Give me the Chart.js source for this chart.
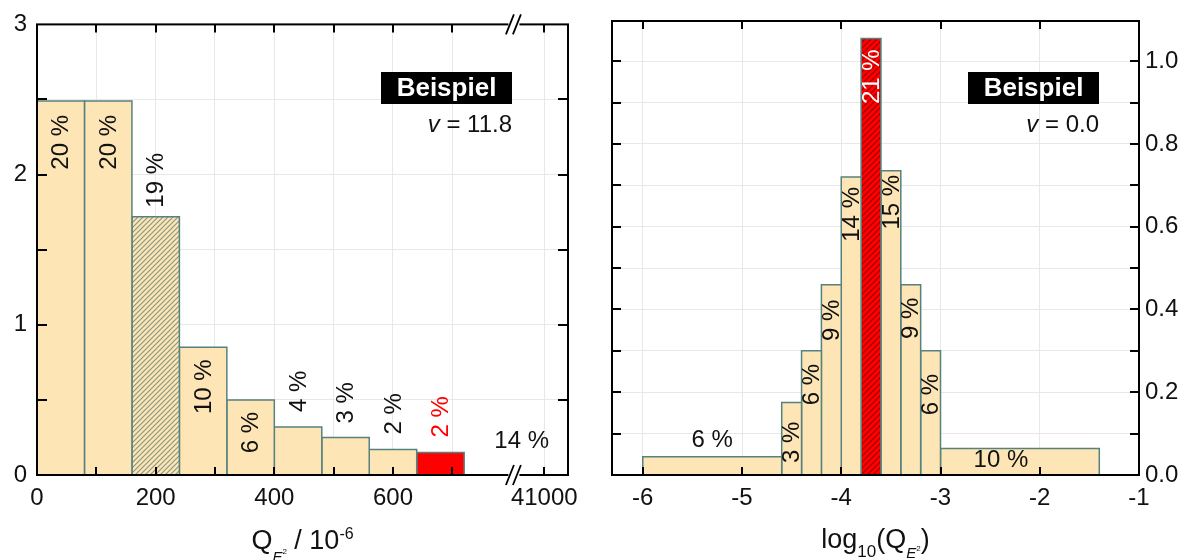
<!DOCTYPE html>
<html>
<head>
<meta charset="utf-8">
<title>Beispiel - Verteilung Q_E2</title>
<script src="https://cdn.jsdelivr.net/npm/chart.js@4.4.1/dist/chart.umd.min.js"></script>
<style>
  html, body { margin: 0; padding: 0; background: #fff; }
  #wrap { position: relative; width: 1198px; height: 560px; overflow: hidden; }
  canvas { position: absolute; top: 0; }
  #left { left: 0; }
  #right { left: 598px; }
</style>
</head>
<body>
<div id="wrap">
  <canvas id="left" width="600" height="560"></canvas>
  <canvas id="right" width="600" height="560"></canvas>
</div>
<script>
// linkes Diagramm: Q_E² / 10^-6, Klassenbreite 80
const leftEdges = [0, 80, 160, 240, 320, 400, 480, 560, 640, 720];
const leftHeights = [2.49, 2.49, 1.72, 0.85, 0.50, 0.32, 0.25, 0.17, 0.15];
const leftPercent = [20, 20, 19, 10, 6, 4, 3, 2, 2];
const leftOverflowPercent = 14;
const leftXTickValues = [0, 200, 400, 600];
const leftBreakTickLabel = '41000';
const leftYTickValues = [0, 1, 2, 3];
const leftV = '11.8';

// rechtes Diagramm: log10(Q_E²)
const rightEdges = [-6, -4.6, -4.4, -4.2, -4.0, -3.8, -3.6, -3.4, -3.2, -3.0, -1.4];
const rightHeights = [0.044, 0.175, 0.30, 0.46, 0.72, 1.055, 0.735, 0.46, 0.30, 0.064];
const rightPercent = [6, 3, 6, 9, 14, 21, 15, 9, 6, 10];
const rightXTickValues = [-6, -5, -4, -3, -2, -1];
const rightYTickValues = [0, 0.2, 0.4, 0.6, 0.8, 1.0];
const rightV = '0.0';

// Darstellung
const FONT = "'Liberation Sans', Arial, sans-serif";
const BEIGE = '#fde5b5';
const EDGE = '#55827f';
const RED = '#ff0000';
const GRID = '#e8e8e8';
const INK = '#111';

const leftStyles = ['plain', 'plain', 'hatch', 'plain', 'plain', 'plain', 'plain', 'plain', 'red'];
const rightStyles = ['plain', 'plain', 'plain', 'plain', 'plain', 'redHatch', 'plain', 'plain', 'plain', 'plain'];

// Achsenbruch links (Position in Achseneinheiten)
const BREAK_AT = 803;
const BREAK_TICK_AT = 855;
const leftXGrid = [0, 100, 200, 300, 400, 500, 600, 700, BREAK_TICK_AT];
const leftYGrid = [0, 0.5, 1, 1.5, 2, 2.5, 3];
const rightYGrid = [0, 0.1, 0.2, 0.3, 0.4, 0.5, 0.6, 0.7, 0.8, 0.9, 1.0];

// Beschriftungen der Balken: Modus + Abstand in px
const leftLabelPlace = [['in', 14], ['in', 14], ['above', 9], ['in', 12], ['in', 12],
  ['above', 15], ['above', 14], ['above', 15], ['above', 15]];
const rightLabelPlace = [['hAbove', 16, 0], ['in', 19], ['in', 13], ['in', 15], ['in', 10],
  ['in', 11], ['in', 4], ['in', 13], ['in', 23], ['hIn', 12, -19]];

function hatchTile(bg, fg, size, lw) {
  const c = document.createElement('canvas');
  c.width = c.height = size;
  const g = c.getContext('2d');
  g.fillStyle = bg;
  g.fillRect(0, 0, size, size);
  g.strokeStyle = fg;
  g.lineWidth = lw;
  g.beginPath();
  g.moveTo(-1, size + 1); g.lineTo(size + 1, -1);
  g.moveTo(-2, 2); g.lineTo(2, -2);
  g.moveTo(size - 2, size + 2); g.lineTo(size + 2, size - 2);
  g.stroke();
  return c;
}

function fillsFor(ctx) {
  return {
    plain: BEIGE,
    red: RED,
    hatch: ctx.createPattern(hatchTile(BEIGE, '#8a9884', 5, 1.2), 'repeat'),
    redHatch: ctx.createPattern(hatchTile(RED, '#a80000', 6, 1.3), 'repeat')
  };
}

function binDatasets(edges, heights, styles, fills) {
  return heights.map((h, i) => ({
    data: [
      { x: edges[i], y: 0 }, { x: edges[i], y: h },
      { x: edges[i + 1], y: h }, { x: edges[i + 1], y: 0 }
    ],
    fill: 'origin',
    backgroundColor: fills[styles[i]],
    borderColor: EDGE,
    borderWidth: 1.5,
    pointRadius: 0,
    tension: 0
  }));
}

function same(a, b) { return Math.abs(a - b) < 1e-9; }

function richText(ctx, parts, cx, baseline) {
  let w = 0;
  parts.forEach(p => {
    ctx.font = (p.i ? 'italic ' : '') + p.s + 'px ' + FONT;
    p.w = ctx.measureText(p.t).width;
    w += p.w;
  });
  let x = cx - w / 2;
  ctx.textAlign = 'left';
  ctx.textBaseline = 'alphabetic';
  parts.forEach(p => {
    ctx.font = (p.i ? 'italic ' : '') + p.s + 'px ' + FONT;
    ctx.fillText(p.t, x, baseline + (p.dy || 0));
    x += p.w;
  });
}

function barLabel(ctx, text, cx, top, place, color) {
  const [mode, off, dx] = place;
  ctx.save();
  ctx.fillStyle = color;
  ctx.font = '24px ' + FONT;
  if (mode === 'in' || mode === 'above') {
    ctx.translate(cx, mode === 'in' ? top + off : top - off);
    ctx.rotate(-Math.PI / 2);
    ctx.textAlign = mode === 'in' ? 'right' : 'left';
    ctx.textBaseline = 'middle';
    ctx.fillText(text, 0, 1);
  } else {
    ctx.textAlign = 'center';
    ctx.textBaseline = 'middle';
    ctx.fillText(text, cx + (dx || 0), mode === 'hIn' ? top + off : top - off);
  }
  ctx.restore();
}

function drawTag(ctx, right, vText) {
  const w = 131, h = 32, top = 72;
  ctx.fillStyle = '#000';
  ctx.fillRect(right - w, top, w, h);
  ctx.fillStyle = '#fff';
  ctx.font = 'bold 26px ' + FONT;
  ctx.textAlign = 'center';
  ctx.textBaseline = 'middle';
  ctx.fillText('Beispiel', right - w / 2, top + h / 2 + 1);
  ctx.fillStyle = INK;
  ctx.textAlign = 'right';
  ctx.textBaseline = 'alphabetic';
  ctx.font = '24px ' + FONT;
  const rest = ' = ' + vText;
  const rw = ctx.measureText(rest).width;
  ctx.fillText(rest, right, 132);
  ctx.font = 'italic 24px ' + FONT;
  ctx.fillText('v', right - rw, 132);
}

function frameAndTicks(chart, xTicks, yTicks, xLen, yLen) {
  const { ctx, chartArea: a, scales } = chart;
  ctx.save();
  ctx.strokeStyle = '#000';
  ctx.lineWidth = 2;
  ctx.strokeRect(a.left, a.top, a.right - a.left, a.bottom - a.top);
  ctx.beginPath();
  xTicks.forEach(v => {
    const px = Math.round(scales.x.getPixelForValue(v));
    ctx.moveTo(px, a.bottom); ctx.lineTo(px, a.bottom - xLen);
    ctx.moveTo(px, a.top); ctx.lineTo(px, a.top + xLen);
  });
  yTicks.forEach(v => {
    const py = Math.round(scales.y.getPixelForValue(v));
    ctx.moveTo(a.left, py); ctx.lineTo(a.left + yLen, py);
    ctx.moveTo(a.right, py); ctx.lineTo(a.right - yLen, py);
  });
  ctx.stroke();
  ctx.restore();
}

const leftPlugin = {
  id: 'leftDeco',
  afterDraw(chart) {
    const { ctx, chartArea: a, scales: { x, y } } = chart;
    frameAndTicks(chart, leftXGrid.slice(1), leftYGrid.slice(1, -1), 8, 10);

    // Achsenbruch
    const bx = x.getPixelForValue(BREAK_AT);
    ctx.save();
    ctx.fillStyle = '#fff';
    ctx.fillRect(bx - 5, a.top - 2, 11, 4);
    ctx.fillRect(bx - 5, a.bottom - 2, 11, 4);
    ctx.strokeStyle = '#000';
    ctx.lineWidth = 1.8;
    ctx.beginPath();
    [a.top, a.bottom].forEach(yy => {
      [-3.5, 3.5].forEach(d => {
        ctx.moveTo(bx + d - 4, yy + 10);
        ctx.lineTo(bx + d + 4, yy - 10);
      });
    });
    ctx.stroke();

    // Balkenbeschriftung
    leftPercent.forEach((p, i) => {
      const cx = x.getPixelForValue((leftEdges[i] + leftEdges[i + 1]) / 2);
      const top = y.getPixelForValue(leftHeights[i]);
      barLabel(ctx, p + ' %', cx, top, leftLabelPlace[i], leftStyles[i] === 'red' ? RED : INK);
    });
    ctx.fillStyle = INK;
    ctx.font = '24px ' + FONT;
    ctx.textAlign = 'center';
    ctx.textBaseline = 'middle';
    ctx.fillText(leftOverflowPercent + ' %', x.getPixelForValue(817), y.getPixelForValue(0.225));

    drawTag(ctx, a.right - 56, leftV);

    ctx.fillStyle = INK;
    richText(ctx, [
      { t: 'Q', s: 27 },
      { t: 'E', s: 15, i: true, dy: 13 },
      { t: '2', s: 8, dy: 5 },
      { t: ' / 10', s: 27 },
      { t: '-6', s: 16, dy: -10 }
    ], (a.left + a.right) / 2, 549);
    ctx.restore();
  }
};

const rightPlugin = {
  id: 'rightDeco',
  afterDraw(chart) {
    const { ctx, chartArea: a, scales: { x, y } } = chart;
    frameAndTicks(chart, rightXTickValues.slice(0, -1), rightYGrid.slice(1), 8, 9);
    ctx.save();
    rightPercent.forEach((p, i) => {
      const cx = x.getPixelForValue((rightEdges[i] + rightEdges[i + 1]) / 2);
      const top = y.getPixelForValue(rightHeights[i]);
      barLabel(ctx, p + ' %', cx, top, rightLabelPlace[i], rightStyles[i] === 'redHatch' ? '#fff' : INK);
    });

    drawTag(ctx, a.right - 40, rightV);

    ctx.fillStyle = INK;
    richText(ctx, [
      { t: 'log', s: 27 },
      { t: '10', s: 17, dy: 9 },
      { t: '(Q', s: 27 },
      { t: 'E', s: 15, i: true, dy: 10 },
      { t: '2', s: 8, dy: 3 },
      { t: ')', s: 27 }
    ], (a.left + a.right) / 2, 548);
    ctx.restore();
  }
};

const tickFont = { family: FONT, size: 24 };

function makeChart(id, datasets, scales, padding, plugin) {
  return new Chart(document.getElementById(id), {
    type: 'line',
    data: { datasets },
    options: {
      responsive: false,
      animation: false,
      events: [],
      layout: { padding },
      plugins: { legend: { display: false }, tooltip: { enabled: false } },
      scales
    },
    plugins: [plugin]
  });
}

const leftCtx = document.getElementById('left').getContext('2d');
const rightCtx = document.getElementById('right').getContext('2d');

makeChart('left', binDatasets(leftEdges, leftHeights, leftStyles, fillsFor(leftCtx)), {
  x: {
    type: 'linear', min: 0, max: 895, position: 'bottom',
    afterBuildTicks: s => { s.ticks = leftXGrid.map(v => ({ value: v })); },
    afterFit: s => { s.height = 85; },
    grid: { color: GRID, drawTicks: false },
    border: { display: false },
    ticks: {
      autoSkip: false, maxRotation: 0, padding: 9, font: tickFont, color: INK,
      callback: v => v === BREAK_TICK_AT ? leftBreakTickLabel
        : (leftXTickValues.includes(v) ? String(v) : '')
    }
  },
  y: {
    type: 'linear', min: 0, max: 3, position: 'left',
    afterBuildTicks: s => { s.ticks = leftYGrid.map(v => ({ value: v })); },
    afterFit: s => { s.width = 37; },
    grid: { color: GRID, drawTicks: false },
    border: { display: false },
    ticks: {
      autoSkip: false, padding: 10, font: tickFont, color: INK,
      callback: v => leftYTickValues.some(t => same(t, v)) ? String(v) : ''
    }
  }
}, { top: 21, right: 32, left: 0, bottom: 0 }, leftPlugin);

makeChart('right', binDatasets(rightEdges, rightHeights, rightStyles, fillsFor(rightCtx)), {
  x: {
    type: 'linear', min: -6.31, max: -1, position: 'bottom',
    afterBuildTicks: s => { s.ticks = rightXTickValues.map(v => ({ value: v })); },
    afterFit: s => { s.height = 85; },
    grid: { color: GRID, drawTicks: false },
    border: { display: false },
    ticks: { autoSkip: false, maxRotation: 0, padding: 9, font: tickFont, color: INK,
      callback: v => String(v) }
  },
  y: {
    type: 'linear', min: 0, max: 1.097, position: 'right',
    afterBuildTicks: s => { s.ticks = rightYGrid.map(v => ({ value: v })); },
    afterFit: s => { s.width = 59; },
    grid: { color: GRID, drawTicks: false },
    border: { display: false },
    ticks: {
      autoSkip: false, padding: 6, font: tickFont, color: INK,
      callback: v => rightYTickValues.some(t => same(t, v)) ? v.toFixed(1) : ''
    }
  }
}, { top: 21, right: 0, left: 14, bottom: 0 }, rightPlugin);
</script>
</body>
</html>
